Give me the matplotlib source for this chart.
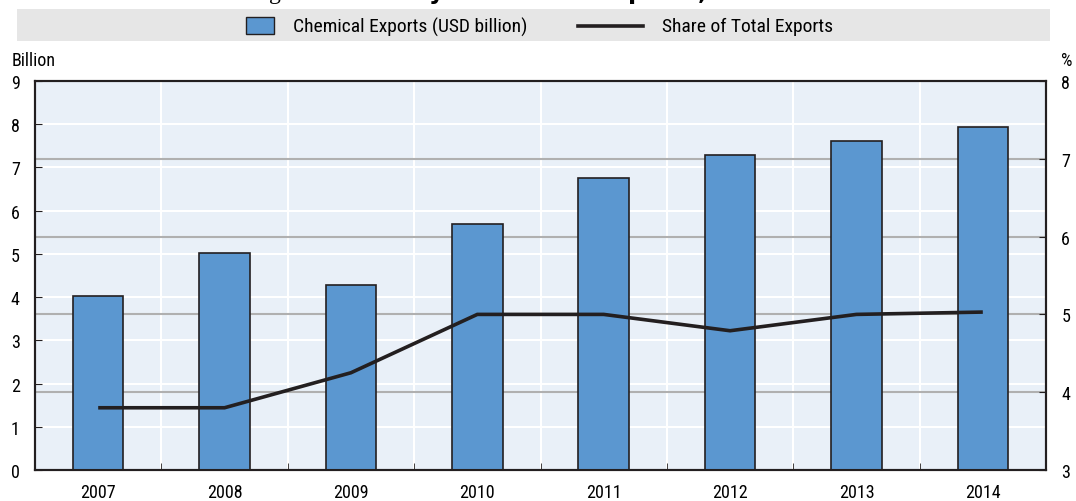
import numpy as np
import matplotlib
matplotlib.use("Agg")
import matplotlib.pyplot as plt
from matplotlib.patches import Rectangle
from matplotlib.lines import Line2D

plt.rcParams['font.family'] = ['Liberation Sans Narrow', 'Roboto Condensed', 'Liberation Sans', 'DejaVu Sans']

years = ['2007', '2008', '2009', '2010', '2011', '2012', '2013', '2014']
exports_bn = [4.02, 5.02, 4.28, 5.68, 6.75, 7.28, 7.61, 7.94]
share_pct = [3.8, 3.8, 4.25, 5.0, 5.0, 4.79, 5.0, 5.03]

bar_col = '#5b97d0'
dark = '#231f20'
bg = '#e9f0f8'

fig = plt.figure(figsize=(10.76, 5.02), dpi=100)
ax = fig.add_axes([35/1076, 1 - 471/502, (1046-35)/1076, (471-82)/502])
ax2 = ax.twinx()

x = np.arange(len(years))
ax.set_facecolor(bg)
ax.set_xlim(-0.5, len(years) - 0.5)
ax.set_ylim(0, 9)
ax2.set_ylim(3, 8)

left_ticks = list(range(0, 10))
right_ticks = list(range(3, 9))

def right_to_left(v):
    lo, hi = ax2.get_ylim()
    return (v - lo) / (hi - lo) * 9

# white grid for left axis + category separators
for v in left_ticks[1:-1]:
    ax.axhline(v, color='white', lw=1.5, zorder=0)
for b in np.arange(0.5, len(years) - 0.5, 1):
    ax.axvline(b, color='white', lw=1.5, zorder=0)
# grey grid for right axis, behind the bars
for v in right_ticks[1:-1]:
    ax.axhline(right_to_left(v), color='#b0b0b0', lw=1.5, zorder=1)

ax.bar(x, exports_bn, width=0.4, color=bar_col, edgecolor=dark, linewidth=1.2, zorder=3)
ax2.plot(x, share_pct, color=dark, lw=2.6, solid_capstyle='butt', solid_joinstyle='miter')

ax.set_xticks(x)
ax.set_xticklabels(years, fontsize=13)
ax.set_xticks(np.arange(0.5, len(years) - 0.5, 1), minor=True)
ax.tick_params(axis='x', which='major', length=0, pad=9)
ax.tick_params(axis='x', which='minor', length=5, direction='in', color=dark)
ax.set_yticks(left_ticks)
ax.tick_params(axis='y', labelsize=13, length=5, direction='in', color=dark, pad=11)
ax2.set_yticks(right_ticks)
ax2.tick_params(axis='y', labelsize=13, length=5, direction='in', color=dark, pad=11)

for a in (ax, ax2):
    for s in a.spines.values():
        s.set_color(dark)
        s.set_linewidth(1.5)

fig.text(12/1076, 1 - 61/502, 'Billion', fontsize=13, va='center', ha='left')
fig.text(1061/1076, 1 - 61/502, '%', fontsize=13, va='center', ha='left')

# legend band
fig.patches.append(Rectangle((17/1076, 1 - 42/502), (1050-17)/1076, 32/502,
                             transform=fig.transFigure, facecolor='#e6e6e6', edgecolor='none'))
fig.patches.append(Rectangle((246/1076, 1 - 35/502), 28/1076, 17/502,
                             transform=fig.transFigure, facecolor=bar_col, edgecolor=dark, lw=1))
fig.text(293/1076, 1 - 27/502, 'Chemical Exports (USD billion)', fontsize=14, va='center')
fig.lines.append(Line2D([578/1076, 643/1076], [1 - 27/502, 1 - 27/502],
                        transform=fig.transFigure, color=dark, lw=2.6))
fig.text(662/1076, 1 - 27/502, 'Share of Total Exports', fontsize=14, va='center')

# title, mostly cut off at the top
fig.text(538/1076, 1 - 7/502, "Figure 13. $\\bf{Turkey's\\ chemical\\ exports,\\ 2007\\text{-}14}$",
         fontsize=17, family='Liberation Serif', ha='center', va='bottom')

fig.savefig('out.png', dpi=100)
